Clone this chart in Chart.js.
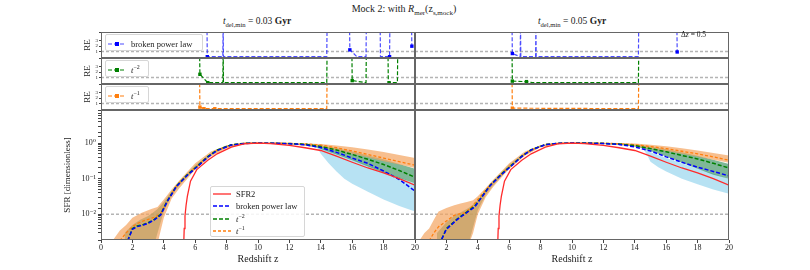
<!DOCTYPE html>
<html>
<head>
<meta charset="utf-8">
<script src="https://cdn.jsdelivr.net/npm/chart.js@4.4.1/dist/chart.umd.min.js"></script>
<style>
  html, body { margin: 0; padding: 0; background: #fff; }
  body { width: 810px; height: 270px; position: relative; overflow: hidden; font-family: 'Liberation Serif', serif; color: #222; }
  .panel { position: absolute; }
  .txt { position: absolute; white-space: nowrap; transform: translate(-50%, -50%); }
  .legend { position: absolute; background: rgba(255,255,255,0.85); border: 1px solid #d6d6d6; border-radius: 2px; box-sizing: border-box; font-size: 8.5px; }
  .legend .item { position: absolute; left: 2px; display: flex; align-items: center; height: 10px; white-space: nowrap; }
  .legend svg { margin-right: 5px; }
  sub, sup { font-size: 70%; line-height: 0; }
</style>
</head>
<body>
<script>
const SERIF = "'Liberation Serif', 'DejaVu Serif', serif";

// ---- data ----
const zRef = [0, 20];
const reRefLevel = 1;      // gray dashed line in the RE rows
const sfrRefLevel = 0.01;  // gray dashed line in the SFR panels

// input SFR2 (same in both columns)
const sfr2Z = [5.27, 5.3, 5.35, 5.42, 5.5, 5.7, 6.1, 6.8, 7.4, 8.3, 9.1, 10, 10.8, 12, 13, 14, 15, 16, 17, 18, 19, 20];
const sfr2 = [0.0015, 0.004, 0.009, 0.018, 0.032, 0.085, 0.18, 0.33, 0.5, 0.77, 0.95, 1.0, 0.97, 0.86, 0.74, 0.62, 0.43, 0.29, 0.2, 0.145, 0.1, 0.066];

// left column: t_del,min = 0.03 Gyr
const fitZL = [1.7, 2.0, 2.3, 2.7, 3.0, 3.4, 3.8, 4.2, 4.8, 5.5, 6.1, 6.8, 7.4, 8.3, 9.2, 10, 11, 12, 13, 14, 15, 16, 17, 18, 19, 20];
const bplL = [0.0018, 0.0038, 0.0045, 0.005, 0.0056, 0.007, 0.0095, 0.022, 0.06, 0.125, 0.21, 0.4, 0.62, 0.88, 0.98, 1.0, 0.99, 0.96, 0.9, 0.75, 0.55, 0.38, 0.27, 0.165, 0.095, 0.045];
const t2L = [0.0018, 0.004, 0.0047, 0.0052, 0.0058, 0.0072, 0.01, 0.023, 0.062, 0.13, 0.22, 0.42, 0.64, 0.9, 0.99, 1.0, 0.99, 0.97, 0.93, 0.8, 0.64, 0.48, 0.35, 0.25, 0.17, 0.11];
const t1ZL = [1.2, 1.6, 2.0, 2.3, 2.7, 3.15, 3.5, 3.8, 4.2, 4.8, 5.5, 6.1, 6.8, 7.4, 8.3, 9.2, 10, 11, 12, 13, 14, 15, 16, 17, 18, 19, 20];
const t1L = [0.0018, 0.003, 0.0045, 0.0055, 0.0065, 0.0076, 0.0085, 0.0105, 0.023, 0.062, 0.13, 0.22, 0.42, 0.64, 0.9, 0.99, 1.0, 1.0, 0.98, 0.95, 0.88, 0.74, 0.6, 0.48, 0.38, 0.3, 0.24];

const bandOZL = [0.8, 1.2, 1.6, 2.0, 2.6, 3.2, 3.6, 4.0, 4.5, 5, 6, 7, 8, 9, 10, 11, 12, 13, 14, 15, 16, 17, 18, 19, 20];
const bandOLoL = [0.001, 0.001, 0.001, 0.001, 0.001, 0.001, 0.0015, 0.008, 0.028, 0.055, 0.18, 0.42, 0.72, 0.92, 0.97, 0.96, 0.92, 0.85, 0.78, 0.63, 0.5, 0.4, 0.31, 0.25, 0.2];
const bandOHiL = [0.002, 0.0035, 0.005, 0.008, 0.011, 0.014, 0.016, 0.026, 0.05, 0.09, 0.27, 0.58, 0.86, 1.02, 1.05, 1.04, 1.0, 0.97, 0.95, 0.86, 0.76, 0.66, 0.56, 0.46, 0.38];
const bandGZL = [1.5, 2, 2.5, 3, 3.3, 3.6, 4, 4.5, 5, 6, 7, 8, 9, 10, 11, 12, 13, 13.8, 14, 15, 16, 17, 18, 19, 20];
const bandGLoL = [0.001, 0.001, 0.001, 0.001, 0.001, 0.003, 0.012, 0.033, 0.065, 0.19, 0.45, 0.78, 0.94, 0.98, 0.97, 0.93, 0.86, 0.74, 0.68, 0.48, 0.33, 0.22, 0.15, 0.105, 0.075];
const bandGHiL = [0.003, 0.005, 0.007, 0.009, 0.011, 0.014, 0.022, 0.045, 0.085, 0.24, 0.52, 0.85, 0.99, 1.01, 1.0, 0.98, 0.93, 0.86, 0.85, 0.73, 0.58, 0.45, 0.35, 0.26, 0.19];
const bandBZL = [13.5, 13.8, 14, 14.5, 15, 15.5, 16, 17, 18, 19, 20];
const bandBLoL = [0.88, 0.7, 0.5, 0.27, 0.16, 0.1, 0.072, 0.043, 0.026, 0.017, 0.012];
const bandBHiL = [0.88, 0.8, 0.72, 0.62, 0.52, 0.43, 0.36, 0.24, 0.16, 0.11, 0.075];

// right column: t_del,min = 0.05 Gyr
const fitZR = [1.7, 2.0, 2.3, 2.7, 3.0, 3.4, 3.8, 4.2, 4.8, 5.5, 6.1, 6.8, 7.4, 8.3, 9.2, 10, 11, 12, 13, 14, 15, 16, 17, 18, 19, 20];
const bplR = [0.002, 0.0038, 0.005, 0.0072, 0.009, 0.012, 0.016, 0.028, 0.065, 0.13, 0.22, 0.42, 0.64, 0.9, 0.99, 1.0, 0.99, 0.97, 0.92, 0.78, 0.6, 0.41, 0.29, 0.21, 0.16, 0.12];
const t2R = [0.002, 0.004, 0.0052, 0.0075, 0.0093, 0.0125, 0.017, 0.029, 0.067, 0.135, 0.23, 0.43, 0.65, 0.91, 0.99, 1.0, 1.0, 0.98, 0.94, 0.85, 0.7, 0.57, 0.45, 0.36, 0.27, 0.2];
const t1ZR = [0.9, 1.2, 1.5, 1.9, 2.2, 2.5, 2.9, 3.2, 3.6, 4.0, 4.8, 5.5, 6.1, 6.8, 7.4, 8.3, 9.2, 10, 11, 12, 13, 14, 15, 16, 17, 18, 19, 20];
const t1R = [0.0018, 0.003, 0.0045, 0.006, 0.0075, 0.0094, 0.0105, 0.011, 0.016, 0.026, 0.068, 0.135, 0.23, 0.43, 0.65, 0.91, 0.99, 1.0, 1.0, 0.99, 0.96, 0.9, 0.8, 0.7, 0.59, 0.5, 0.41, 0.33];

const bandOZR = [0.3, 0.6, 0.9, 1.2, 1.5, 2.0, 2.5, 2.9, 3.3, 3.7, 4.0, 4.5, 5, 6, 7, 8, 9, 10, 11, 12, 13, 14, 15, 16, 17, 18, 19, 20];
const bandOLoR = [0.001, 0.001, 0.001, 0.001, 0.001, 0.001, 0.001, 0.001, 0.001, 0.003, 0.01, 0.03, 0.06, 0.19, 0.44, 0.76, 0.94, 0.98, 0.98, 0.95, 0.9, 0.82, 0.7, 0.6, 0.5, 0.42, 0.34, 0.28];
const bandOHiR = [0.0019, 0.003, 0.004, 0.007, 0.012, 0.015, 0.018, 0.02, 0.022, 0.025, 0.032, 0.055, 0.095, 0.27, 0.58, 0.87, 1.02, 1.05, 1.05, 1.03, 1.0, 0.97, 0.9, 0.82, 0.72, 0.62, 0.53, 0.45];
const bandGZR = [1.4, 2, 2.5, 3, 3.3, 3.6, 4, 4.5, 5, 6, 7, 8, 9, 10, 11, 12, 13, 14, 14.5, 15, 16, 17, 18, 19, 20];
const bandGLoR = [0.001, 0.001, 0.001, 0.001, 0.001, 0.003, 0.013, 0.035, 0.067, 0.2, 0.46, 0.8, 0.95, 0.98, 0.98, 0.94, 0.88, 0.8, 0.72, 0.6, 0.42, 0.28, 0.19, 0.13, 0.1];
const bandGHiR = [0.003, 0.006, 0.009, 0.012, 0.014, 0.017, 0.025, 0.048, 0.088, 0.25, 0.53, 0.87, 1.0, 1.01, 1.01, 0.99, 0.96, 0.9, 0.86, 0.8, 0.67, 0.55, 0.44, 0.34, 0.26];
const bandBZR = [14.5, 14.8, 15, 15.5, 16, 17, 18, 19, 20];
const bandBLoR = [0.75, 0.45, 0.3, 0.21, 0.16, 0.1, 0.07, 0.05, 0.038];
const bandBHiR = [0.75, 0.65, 0.55, 0.46, 0.38, 0.27, 0.19, 0.14, 0.1];

// relative error rows (values above the top run off the panel)
const reBplZL = [6.75, 6.77, 7.76, 7.78, 7.8, 14.38, 14.4, null, 15.83, 15.85, 16.3, 16.88, 16.9, null, 17.78, 17.8, 18.38, 18.4, null, 19.78, 19.8];
const reBplL = [6, 0, 0, 6, 0, 0, 6, null, 6, 1.3, 0, 0, 6, null, 6, 0, 0, 6, null, 6, 2];
const reBplMarkZL = [6.77, 15.85, 18.38, 19.8];
const reBplMarkL = [0, 1.3, 0, 2];
const reT2ZL = [6.28, 6.3, 6.8, 7.76, 7.78, 7.8, 14.38, 14.4, null, 15.98, 16.0, 16.88, 16.9, null, 18.28, 18.3, 18.88, 18.9];
const reT2L = [6, 1.6, 0, 0, 6, 0, 0, 6, null, 6, 0.4, 0, 6, null, 6, 0, 0, 6];
const reT2MarkZL = [6.3, 6.8, 16.0, 18.35];
const reT2MarkL = [1.6, 0, 0.4, 0];
const reT1ZL = [6.28, 6.3, 6.56, 14.38, 14.4];
const reT1L = [6, 0.3, 0, 0, 6];
const reT1MarkZL = [6.3, 6.56, 7.25];
const reT1MarkL = [0.3, 0, 0];

const reBplZR = [6.18, 6.2, 6.7, 6.72, 6.74, 7.68, 7.7, 7.72, 14.23, 14.25, null, 16.68, 16.7];
const reBplR = [6, 0.6, 0, 6, 0, 0, 6, 0, 0, 6, null, 6, 0.9];
const reBplMarkZR = [6.2, 16.7];
const reBplMarkR = [0.6, 0.9];
const reT2ZR = [6.18, 6.2, 7.1, 7.5, 14.23, 14.25];
const reT2R = [6, 0.3, 0.2, 0, 0, 6];
const reT2MarkZR = [6.2, 7.1];
const reT2MarkR = [0.3, 0.2];
const reT1ZR = [6.18, 6.2, 14.23, 14.25];
const reT1R = [6, 0.1, 0, 6];
const reT1MarkZR = [6.2];
const reT1MarkR = [0.1];

// ---- styling ----
const RED = '#ff2b2b', BLUE = '#0000ff', GREEN = '#008000', ORANGE = '#ff7f0e';
const RE_MIN = -0.25, RE_MAX = 4.7;
const SFR_MIN = 0.0019, SFR_MAX = 8.5;

Chart.defaults.font.family = SERIF;
Chart.defaults.color = '#222';
Chart.defaults.animation = false;

function pts(zs, vs) {
    return zs.map((z, i) => ({x: z, y: vs[i]}));
}

function lineDs(label, zs, vs, color, width, dash) {
    return {label: label, data: pts(zs, vs), borderColor: color, backgroundColor: color,
        borderWidth: width, borderDash: dash || [], pointRadius: 0, fill: false};
}

// two datasets: lower edge, then upper edge filled down to it
function bandDs(zs, lo, hi, color) {
    return [
        {data: pts(zs, lo), borderColor: 'transparent', borderWidth: 1, pointRadius: 0, fill: false},
        {data: pts(zs, hi), borderColor: 'transparent', borderWidth: 1, pointRadius: 0, fill: '-1', backgroundColor: color}
    ];
}

function markDs(zs, vs, color) {
    return {data: pts(zs, vs), showLine: false, pointStyle: 'rect', pointRadius: 2.4,
        pointBackgroundColor: color, pointBorderColor: color, pointBorderWidth: 0};
}

// box around the plot area, like matplotlib spines
const frame = {
    id: 'frame',
    afterDatasetsDraw(chart) {
        const a = chart.chartArea, c = chart.ctx;
        c.save();
        c.strokeStyle = '#666';
        c.lineWidth = 1;
        c.strokeRect(Math.round(a.left) + 0.5, Math.round(a.top) + 0.5,
            Math.round(a.right - a.left) - 1, Math.round(a.bottom - a.top) - 1);
        c.restore();
    }
};

const SUP = {'-': '⁻', '0': '⁰', '1': '¹', '2': '²', '3': '³'};
function decadeLabel(v) {
    const e = Math.log10(v);
    if (Math.abs(e - Math.round(e)) > 1e-6) return '';
    return '10' + String(Math.round(e)).split('').map(c => SUP[c]).join('');
}

function xAxis(show, hideZero) {
    return {
        type: 'linear', min: 0, max: 20, display: show,
        grid: {drawOnChartArea: false, tickLength: 3, color: '#444'},
        border: {display: false},
        ticks: {stepSize: 2, autoSkip: false, maxRotation: 0, padding: 0, font: {size: 8},
            callback: v => (hideZero && v === 0) ? '' : v},
        title: {display: true, text: 'Redshift z', font: {size: 10}, padding: {top: 0, bottom: 5}},
        afterFit: s => { s.height = show ? 30 : 0; s.paddingLeft = 0; s.paddingRight = 0; }
    };
}

function reAxis(show) {
    return {
        type: 'linear', min: RE_MIN, max: RE_MAX, display: show,
        grid: {drawOnChartArea: false, tickLength: 2, color: '#444'},
        border: {display: false},
        ticks: {stepSize: 1, autoSkip: false, padding: 1, font: {size: 5},
            callback: v => (Number.isInteger(v) && v >= 0 && v <= 3) ? v : ''},
        title: {display: true, text: 'RE', font: {size: 9}, padding: 1},
        afterFit: s => { s.width = show ? 20 : 0; s.paddingTop = 0; s.paddingBottom = 0; }
    };
}

function sfrAxis(show) {
    return {
        type: 'logarithmic', min: SFR_MIN, max: SFR_MAX, display: show,
        grid: {drawOnChartArea: false, tickLength: 3, color: '#444'},
        border: {display: false},
        ticks: {autoSkip: false, padding: 2, font: {size: 8}, callback: v => decadeLabel(v)},
        title: {display: true, text: 'SFR [dimensionless]', font: {size: 9}, padding: 1},
        afterFit: s => { s.width = show ? 40 : 0; s.paddingTop = 0; s.paddingBottom = 0; }
    };
}

function addPanel(left, top, width, height, datasets, scales, padRight) {
    const div = document.createElement('div');
    div.className = 'panel';
    div.style.cssText = `left:${left}px;top:${top}px;width:${width}px;height:${height}px`;
    const cv = document.createElement('canvas');
    div.appendChild(cv);
    document.body.appendChild(div);
    return new Chart(cv, {
        type: 'line',
        data: {datasets: datasets},
        options: {
            responsive: true,
            maintainAspectRatio: false,
            events: [],
            layout: {autoPadding: false, padding: {left: 0, top: 0, bottom: 0, right: padRight || 0}},
            plugins: {legend: {display: false}, tooltip: {enabled: false}},
            scales: scales
        },
        plugins: [frame]
    });
}

function addText(html, x, y, size, anchor) {
    const d = document.createElement('div');
    d.className = 'txt';
    d.style.left = x + 'px';
    d.style.top = y + 'px';
    d.style.fontSize = size + 'px';
    if (anchor === 'left') d.style.transform = 'translate(0, -50%)';
    d.innerHTML = html;
    document.body.appendChild(d);
}

function addLegend(left, top, width, height, items, firstY, step) {
    const box = document.createElement('div');
    box.className = 'legend';
    box.style.cssText = `left:${left}px;top:${top}px;width:${width}px;height:${height}px`;
    items.forEach((it, i) => {
        const ds = it.ds;
        const dash = ds.borderDash && ds.borderDash.length ? `stroke-dasharray="${ds.borderDash.join(' ')}"` : '';
        let svg = `<svg width="18" height="8"><line x1="0" y1="4" x2="18" y2="4" stroke="${ds.borderColor}" stroke-width="${ds.borderWidth}" ${dash}/>`;
        if (it.mark) svg += `<rect x="7" y="2" width="4" height="4" fill="${it.mark}"/>`;
        svg += '</svg>';
        const row = document.createElement('div');
        row.className = 'item';
        row.style.top = (firstY + i * step - 5) + 'px';
        row.innerHTML = svg + '<span>' + it.html + '</span>';
        box.appendChild(row);
    });
    document.body.appendChild(box);
}

// ---- plot areas ----
const COLS = [
    {left: 101, width: 314, showY: true},
    {left: 415, width: 314, showY: false}
];
const RE_TOPS = [32, 58, 84];
const RE_H = 26;
const SFR_TOP = 110, SFR_H = 130;

const reData = [
    [
        {z: reBplZL, v: reBplL, mz: reBplMarkZL, mv: reBplMarkL, color: BLUE, label: 'broken power law'},
        {z: reT2ZL, v: reT2L, mz: reT2MarkZL, mv: reT2MarkL, color: GREEN, label: 't-2'},
        {z: reT1ZL, v: reT1L, mz: reT1MarkZL, mv: reT1MarkL, color: ORANGE, label: 't-1'}
    ],
    [
        {z: reBplZR, v: reBplR, mz: reBplMarkZR, mv: reBplMarkR, color: BLUE, label: 'broken power law'},
        {z: reT2ZR, v: reT2R, mz: reT2MarkZR, mv: reT2MarkR, color: GREEN, label: 't-2'},
        {z: reT1ZR, v: reT1R, mz: reT1MarkZR, mv: reT1MarkR, color: ORANGE, label: 't-1'}
    ]
];

const reLines = [];
COLS.forEach((col, c) => {
    reData[c].forEach((row, r) => {
        const line = lineDs(row.label, row.z, row.v, row.color, 1.2, [4, 2]);
        line.borderColor = row.color === BLUE ? 'rgba(0,0,255,0.7)' : row.color;
        reLines.push({c: c, r: r, ds: line, color: row.color});
        const ds = [
            markDs(row.mz, row.mv, row.color),
            line,
            lineDs('', zRef, [reRefLevel, reRefLevel], '#b4b4b4', 1.5, [3, 2])
        ];
        const yW = col.showY ? 20 : 0;
        addPanel(col.left - yW, RE_TOPS[r], col.width + yW, RE_H, ds,
            {x: xAxis(false, false), y: reAxis(col.showY)});
    });
});

const sfrSets = [
    {bpl: [fitZL, bplL], t2: [fitZL, t2L], t1: [t1ZL, t1L],
     bO: [bandOZL, bandOLoL, bandOHiL], bG: [bandGZL, bandGLoL, bandGHiL], bB: [bandBZL, bandBLoL, bandBHiL]},
    {bpl: [fitZR, bplR], t2: [fitZR, t2R], t1: [t1ZR, t1R],
     bO: [bandOZR, bandOLoR, bandOHiR], bG: [bandGZR, bandGLoR, bandGHiR], bB: [bandBZR, bandBLoR, bandBHiR]}
];

let legendSets = null;
COLS.forEach((col, c) => {
    const s = sfrSets[c];
    const lines = [
        lineDs('SFR2', sfr2Z, sfr2, RED, 1.3),
        lineDs('broken power law', s.bpl[0], s.bpl[1], BLUE, 1.5, [4, 2]),
        lineDs('t-2', s.t2[0], s.t2[1], GREEN, 1.5, [4, 2]),
        lineDs('t-1', s.t1[0], s.t1[1], ORANGE, 1.3, [3, 2])
    ];
    const ds = lines.concat(
        bandDs(s.bO[0], s.bO[1], s.bO[2], 'rgba(244,164,96,0.7)'),
        bandDs(s.bG[0], s.bG[1], s.bG[2], 'rgba(46,139,87,0.62)'),
        bandDs(s.bB[0], s.bB[1], s.bB[2], 'rgba(135,206,235,0.6)'),
        [lineDs('', zRef, [sfrRefLevel, sfrRefLevel], '#b4b4b4', 1.5, [3, 2])]
    );
    if (c === 0) legendSets = lines;
    const yW = col.showY ? 40 : 0;
    addPanel(col.left - yW, SFR_TOP, col.width + yW + 8, SFR_H + 30, ds,
        {x: xAxis(true, c === 1), y: sfrAxis(col.showY)}, 8);
});

// ---- texts and legends ----
addText('Mock 2: with <i>R</i><sub>mer</sub>(z<sub>s,mock</sub>)', 404, 8, 10);
addText('<i>t</i><sub>del,min</sub> = 0.03 <b>Gyr</b>', 257, 21, 9.5);
addText('<i>t</i><sub>del,min</sub> = 0.05 <b>Gyr</b>', 572, 21, 9.5);
addText('Δ<i>z</i> = 0.5', 681, 34, 7.5, 'left');

const reLegendHtml = ['broken power law', '<i>t</i><sup>−2</sup>', '<i>t</i><sup>−1</sup>'];
const reLegendW = [98, 44, 44];
reLines.filter(l => l.c === 0).forEach(l => {
    addLegend(105, RE_TOPS[l.r] + 2, reLegendW[l.r], 17,
        [{ds: l.ds, html: reLegendHtml[l.r], mark: l.color}], 9, 0);
});

addLegend(210, 186, 95, 51, [
    {ds: legendSets[0], html: 'SFR2'},
    {ds: legendSets[1], html: 'broken power law'},
    {ds: legendSets[2], html: '<i>t</i><sup>−2</sup>'},
    {ds: legendSets[3], html: '<i>t</i><sup>−1</sup>'}
], 7, 12.4);
</script>
</body>
</html>
